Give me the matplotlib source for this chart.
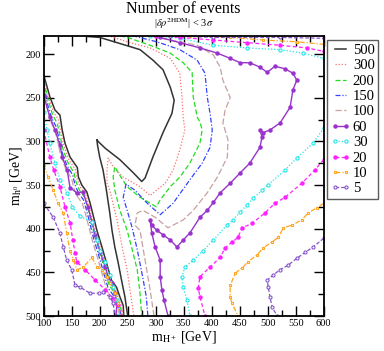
import matplotlib
matplotlib.use("Agg")
import matplotlib.pyplot as plt
from matplotlib.ticker import MultipleLocator

plt.rcParams['font.family'] = ['Liberation Serif', 'DejaVu Serif']
plt.rcParams['mathtext.fontset'] = 'stix'

# contour levels (number of events)
levels = ['500', '300', '200', '150', '100', '60', '30', '20', '10', '5']

# ---- upper / inner branches (m_H+, m_h0) ----
n500_up_mH = [179, 200, 231, 272, 295, 313, 326, 333, 329, 313, 295, 281, 275, 260, 236, 210, 197, 195,
              196, 200, 206, 212, 218, 222, 227, 233, 239, 245, 250]
n500_up_mh = [180, 181, 187, 195, 207, 218, 238, 253, 268, 290, 318, 342, 346, 336, 321, 308, 300, 298,
              304, 318, 333, 356, 382, 402, 421, 439, 459, 478, 500]
n300_up_mH = [215, 254, 290, 326, 343, 347, 349, 352, 343, 331, 317, 290, 272, 242, 224, 215, 213, 213,
              218, 231, 240, 249, 254, 261]
n300_up_mh = [179, 187, 193, 205, 222, 249, 272, 287, 310, 333, 348, 362, 352, 341, 329, 319, 333, 348,
              356, 390, 421, 447, 470, 500]
n200_up_mH = [236, 254, 290, 326, 349, 365, 367, 374, 379, 383, 379, 361, 343, 326, 308, 301, 272, 249,
              233, 227, 224, 227, 236, 249, 258, 267, 272, 275]
n200_up_mh = [179, 182, 190, 199, 210, 221, 249, 272, 278, 287, 302, 325, 341, 352, 367, 375, 364, 352,
              336, 329, 341, 356, 379, 402, 424, 447, 474, 500]
n150_up_mH = [258, 302, 343, 374, 388, 392, 397, 401, 397, 383, 361, 331, 308, 285, 263, 247, 242, 249,
              258, 267, 276, 283, 286]
n150_up_mh = [179, 186, 195, 207, 222, 249, 268, 287, 307, 325, 344, 371, 384, 371, 356, 349, 364, 379,
              399, 424, 453, 477, 500]
n100_up_mH = [281, 326, 374, 403, 415, 420, 433, 424, 420, 429, 428, 410, 392, 367, 349, 322, 299, 277,
              267, 263, 272, 281, 290, 297]
n100_up_mh = [179, 184, 190, 201, 215, 230, 250, 264, 279, 298, 318, 341, 359, 379, 390, 399, 387, 379,
              382, 396, 402, 436, 470, 500]
n60_up_mH = [308, 343, 379, 410, 433, 451, 468, 486, 499, 513, 531, 545, 552, 545, 540, 522, 504, 492,
             486, 490, 486, 468, 451, 433, 415, 403, 392, 379, 361, 349, 338, 326, 313, 302, 293, 290,
             293, 299, 308, 308, 311, 315, 322]
n60_up_mh = [181, 187, 193, 199, 205, 210, 210, 215, 221, 214, 217, 222, 230, 241, 261, 279, 287, 290,
             287, 295, 307, 325, 336, 348, 359, 370, 379, 387, 405, 413, 421, 413, 407, 402, 396, 390,
             405, 421, 436, 455, 470, 482, 500]

# ---- top branches of the low levels (leave through the right edge) ----
n30_top_mH = [290, 343, 403, 463, 522, 563, 600]
n30_top_mh = [179, 182, 190, 193, 195, 199, 205]
n20_top_mH = [300, 343, 403, 463, 522, 570, 600]
n20_top_mh = [179, 181, 184, 187, 190, 193, 197]
n10_top_mH = [361, 433, 492, 552, 600]
n10_top_mh = [179, 181, 184, 186, 189]
n5_top_mH = [326, 403, 522, 600]
n5_top_mh = [179, 181, 181, 182]

# ---- lower right branches of the low levels ----
n30_low_mH = [600, 581, 552, 531, 500, 490, 474, 463, 451, 438, 427, 403, 385, 367, 352, 347, 349, 356, 361]
n30_low_mh = [285, 302, 319, 333, 350, 356, 365, 373, 381, 390, 396, 413, 425, 436, 444, 455, 467, 482, 500]
n20_low_mH = [600, 584, 561, 531, 513, 495, 472, 454, 447, 437, 424, 415, 397, 379, 376, 379, 388]
n20_low_mh = [321, 333, 348, 364, 371, 382, 394, 399, 410, 415, 422, 433, 444, 455, 468, 478, 500]
n10_low_mH = [600, 588, 572, 561, 543, 528, 519, 508, 492, 481, 465, 454, 442, 433, 433, 436, 447]
n10_low_mh = [371, 376, 382, 390, 396, 399, 410, 415, 422, 430, 438, 445, 451, 465, 478, 485, 500]
n5_low_mH = [600, 581, 567, 552, 536, 522, 510, 499, 501, 504, 508, 517]
n5_low_mh = [411, 421, 427, 434, 442, 447, 453, 459, 467, 478, 490, 500]

# ---- left-edge branches ----
n500_left_mH = [100, 111, 120, 129, 133, 138, 147, 160, 162, 168, 177, 183, 195, 204, 212, 221, 230, 236, 242, 243]
n500_left_mh = [224, 249, 264, 270, 287, 302, 318, 330, 341, 350, 358, 371, 402, 421, 439, 459, 467, 478, 488, 500]
n300_left_mH = [100, 110, 118, 126, 131, 136, 145, 157, 160, 166, 175, 181, 193, 202, 210, 219, 228, 234, 240, 242]
n300_left_mh = [228, 252, 267, 275, 290, 305, 321, 333, 344, 353, 361, 374, 405, 424, 442, 462, 470, 481, 490, 500]
n200_left_mH = [100, 109, 116, 124, 129, 134, 143, 154, 158, 164, 173, 179, 191, 200, 208, 217, 226, 232, 238, 240]
n200_left_mh = [231, 255, 270, 279, 293, 308, 324, 336, 347, 356, 364, 377, 408, 427, 445, 465, 473, 484, 492, 500]
n150_left_mH = [100, 107, 114, 122, 127, 132, 141, 152, 156, 162, 171, 177, 189, 198, 206, 215, 224, 231, 236, 239]
n150_left_mh = [234, 258, 273, 283, 296, 311, 327, 339, 350, 359, 367, 380, 411, 430, 448, 468, 476, 486, 494, 500]
n100_left_mH = [100, 106, 112, 120, 125, 130, 139, 150, 154, 160, 169, 175, 187, 196, 204, 213, 222, 229, 234, 237]
n100_left_mh = [239, 262, 277, 287, 300, 315, 331, 343, 354, 363, 371, 384, 414, 433, 451, 471, 479, 488, 495, 500]
n60_left_mH = [100, 111, 120, 129, 133, 142, 147, 159, 170, 179, 186, 192, 201, 210, 215, 222, 227, 231, 229]
n60_left_mh = [248, 272, 287, 304, 318, 333, 353, 359, 358, 375, 392, 407, 427, 444, 455, 462, 474, 485, 500]
n30_left_mH = [100, 106, 111, 120, 129, 142, 151, 165, 186, 195, 201, 210, 218, 224, 231, 234]
n30_left_mh = [266, 287, 302, 325, 344, 359, 375, 386, 392, 413, 425, 438, 453, 467, 482, 500]
n20_left_mH = [100, 111, 118, 129, 138, 147, 152, 156, 159, 174, 192, 210, 222, 233, 238]
n20_left_mh = [287, 318, 333, 352, 375, 393, 413, 428, 438, 447, 459, 470, 479, 487, 500]
n10_left_mH = [100, 108, 117, 126, 135, 141, 147, 153, 159, 171, 186, 195, 204, 213, 218, 227, 233, 236]
n10_left_mh = [327, 341, 356, 371, 382, 405, 425, 436, 447, 444, 433, 444, 447, 455, 462, 474, 485, 500]
n5_left_mH = [100, 117, 129, 135, 141, 150, 156, 165, 183, 198, 206, 218, 224, 227]
n5_left_mh = [371, 387, 405, 421, 436, 447, 465, 467, 474, 474, 473, 478, 485, 500]

curves = {
    '500': [(n500_up_mH, n500_up_mh), (n500_left_mH, n500_left_mh)],
    '300': [(n300_up_mH, n300_up_mh), (n300_left_mH, n300_left_mh)],
    '200': [(n200_up_mH, n200_up_mh), (n200_left_mH, n200_left_mh)],
    '150': [(n150_up_mH, n150_up_mh), (n150_left_mH, n150_left_mh)],
    '100': [(n100_up_mH, n100_up_mh), (n100_left_mH, n100_left_mh)],
    '60': [(n60_up_mH, n60_up_mh), (n60_left_mH, n60_left_mh)],
    '30': [(n30_top_mH, n30_top_mh), (n30_low_mH, n30_low_mh), (n30_left_mH, n30_left_mh)],
    '20': [(n20_top_mH, n20_top_mh), (n20_low_mH, n20_low_mh), (n20_left_mH, n20_left_mh)],
    '10': [(n10_top_mH, n10_top_mh), (n10_low_mH, n10_low_mh), (n10_left_mH, n10_left_mh)],
    '5': [(n5_top_mH, n5_top_mh), (n5_low_mH, n5_low_mh), (n5_left_mH, n5_left_mh)],
}

styles = {
    '500': dict(color='#333333', ls='-', lw=1.1),
    '300': dict(color='#ff7070', ls=(0, (1, 1.5)), lw=0.9),
    '200': dict(color='#22dd22', ls=(0, (4, 2)), lw=0.9),
    '150': dict(color='#3344ff', ls=(0, (4, 1.5, 1, 1.5)), lw=0.9),
    '100': dict(color='#c8a0a0', ls=(0, (5, 2)), lw=0.9),
    '60': dict(color='#9933cc', ls='-', lw=1.0, marker='o', ms=2.2),
    '30': dict(color='#22e5e5', ls=(0, (1, 1.5)), lw=0.9, marker='o', ms=2.3, mfc='white', mew=0.8),
    '20': dict(color='#ff22ff', ls=(0, (3, 2)), lw=0.9, marker='o', ms=2.2),
    '10': dict(color='#ffa520', ls=(0, (4, 1.5, 1, 1.5)), lw=0.9, marker='s', ms=2.0, mfc='white', mew=0.8),
    '5': dict(color='#8855cc', ls=(0, (3, 1.5)), lw=0.9, marker='o', ms=2.2, mfc='white', mew=0.8),
}

fig = plt.figure(figsize=(3.84, 3.51), dpi=100)
ax = fig.add_axes([0.1138, 0.0997, 0.7292, 0.7977])

for lev in levels:
    for i, (xs, ys) in enumerate(curves[lev]):
        ax.plot(xs, ys, label=lev if i == 0 else None, **styles[lev])

ax.set_xlim(100, 600)
ax.set_ylim(500, 179.4)
ax.xaxis.set_major_locator(MultipleLocator(50))
ax.xaxis.set_minor_locator(MultipleLocator(25))
ax.yaxis.set_major_locator(MultipleLocator(50))
ax.yaxis.set_minor_locator(MultipleLocator(25))
ax.tick_params(which='both', direction='in', top=True, right=True, labelsize=7.5, pad=2)
ax.tick_params(which='major', length=7, width=1)
ax.tick_params(which='minor', length=4, width=1)
for sp in ax.spines.values():
    sp.set_linewidth(1.3)

ax.set_xlabel(r'm$_{\mathrm{H}^+}$ [GeV]', fontsize=10, labelpad=1)
ax.set_ylabel(r'm$_{\mathrm{h}^0}$ [GeV]', fontsize=10, labelpad=1)

fig.text(0.478, 0.964, 'Number of events', ha='center', va='baseline', fontsize=11.5)
fig.text(0.478, 0.924, r'|$\delta\rho^{\mathrm{2HDM}}$| < 3$\sigma$', ha='center', va='baseline', fontsize=7.5)

leg = ax.legend(loc='upper left', bbox_to_anchor=(327.3 / 384, 1 - 40 / 351),
                bbox_transform=fig.transFigure, borderaxespad=0, fontsize=10.5,
                handlelength=1.3, handletextpad=0.2, labelspacing=0.15, borderpad=0.25,
                numpoints=2, frameon=True, fancybox=False)
leg.get_frame().set_edgecolor('#333333')
leg.get_frame().set_linewidth(1.0)

fig.savefig('out.png', dpi=100)
